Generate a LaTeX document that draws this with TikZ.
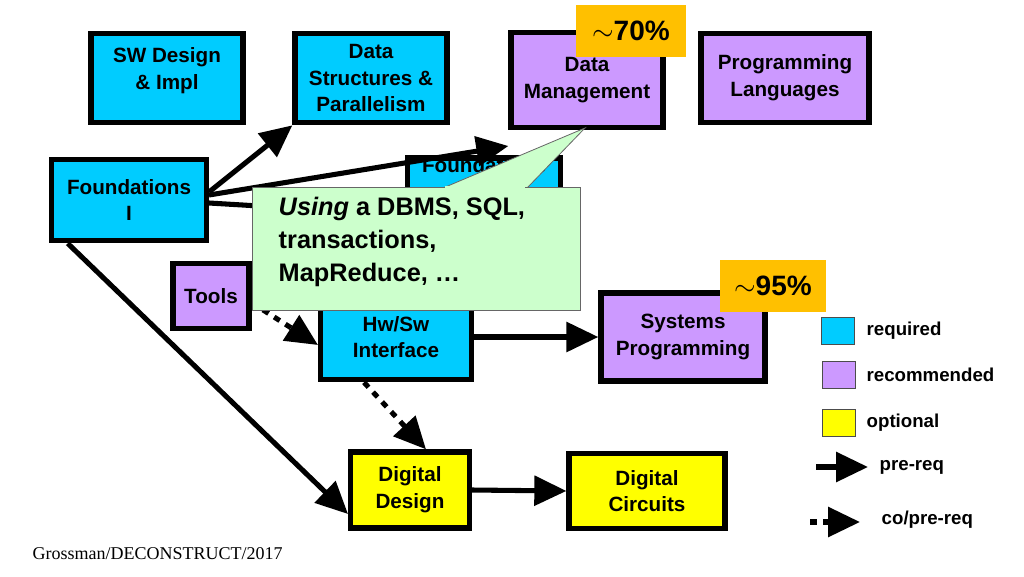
\documentclass[tikz,border=0pt]{standalone}
\usepackage{fontspec}
\setmainfont{Liberation Sans}
\usetikzlibrary{arrows.meta}
\definecolor{req}{HTML}{00CCFF}
\definecolor{rec}{HTML}{CC99FF}
\definecolor{opt}{HTML}{FFFF00}
\definecolor{org}{HTML}{FFC000}
\definecolor{callg}{HTML}{CCFFCC}
\begin{document}
\begin{tikzpicture}[x=0.75pt,y=-0.75pt,
  course/.style={draw=black,line width=4pt,align=center,font=\bfseries\fontsize{15.5}{20}\selectfont,inner sep=0pt},
  pre/.style={line width=3.8pt,-{Triangle[length=24pt,width=22pt]}},
  copre/.style={line width=3.8pt,dash pattern=on 5pt off 5pt,-{Triangle[length=24pt,width=22pt]}},
  legbox/.style={draw=black!70,line width=0.8pt,minimum width=25pt,minimum height=20pt,inner sep=0pt},
  legtxt/.style={anchor=west,font=\bfseries\fontsize{14}{16}\selectfont},
  pct/.style={fill=org,inner sep=0pt,font=\bfseries\fontsize{21}{24}\selectfont}]
\useasboundingbox (0,0) rectangle (1024,576);
% nodes
\node[course,fill=req,minimum width=114pt,minimum height=67pt] (swd) at (167,78) {SW Design\\\& Impl\\[-6pt]};
\node[course,fill=req,minimum width=114pt,minimum height=67pt] (ds) at (371,78) {Data\\Structures \&\\Parallelism};
\node[course,fill=rec,minimum width=114pt,minimum height=71pt] (dm) at (587,80) {Data\\Management};
\node[course,fill=rec,minimum width=126pt,minimum height=67pt] (pl) at (785,78) {Programming\\Languages};
\node[course,fill=req,minimum width=116pt,minimum height=61pt] (f1) at (129,200) {Foundations\\I};
\node[course,fill=req,minimum width=115pt,minimum height=66pt] (f2) at (484,204) {Foundations\\II\\[18pt]};
\node[course,fill=rec,minimum width=57pt,minimum height=49pt] (tools) at (211,296) {Tools};
\node[course,fill=req,minimum width=113pt,minimum height=64pt] (hw) at (396,337) {Hw/Sw\\Interface};
\node[course,fill=rec,minimum width=123pt,minimum height=66pt] (sp) at (683,337) {Systems\\Programming};
\node[course,fill=opt,minimum width=89pt,minimum height=57pt] (dd) at (410,490) {Digital\\Design};
\node[course,fill=opt,minimum width=117pt,minimum height=56pt] (dc) at (647,491) {Digital\\Circuits};
\node[pct,minimum width=82pt,minimum height=39pt] (p70) at (631,31) {$\sim$70\%};
\node[pct,minimum width=80pt,minimum height=39pt] (p95) at (773,286) {$\sim$95\%};
% connectors
\draw[pre] (f1.east) ++(0,-8) -- (ds.south west);
\draw[pre] (f1.east) ++(0,-5) -- ([yshift=-12pt]dm.south west);
\draw[pre] (f1.east) ++(0,3) -- ([yshift=-8pt]f2.west);
\draw[pre] ([xshift=14pt]f1.south west) -- ([yshift=-18pt]dd.west);
\draw[copre] ([yshift=-5pt]tools.east) -- ([yshift=-6pt]hw.west);
\draw[pre] (hw.east) -- (sp.west);
\draw[copre] ([xshift=-24pt]hw.south) -- ([xshift=12pt]dd.north);
\draw[pre] (dd.east) -- (dc.west);
% callout
\fill[callg,draw=black!60,line width=0.6pt] (443,188) -- (585,128) -- (527,188) -- cycle;
\node[fill=callg,draw=black!60,line width=0.6pt,minimum width=246pt,minimum height=92pt,inner sep=0pt] (call) at (416,249) {};
\fill[callg] (445,186) -- (525,186) -- (525,191) -- (445,191) -- cycle;
\node[anchor=north west,align=left,font=\bfseries\fontsize{19}{25}\selectfont] (ctext) at (274,192) {\textit{Using} a DBMS, SQL,\\transactions,\\MapReduce, …};
% legend
\node[legbox,fill=req] (lreq) at (838,331) {};
\node[legtxt] (treq) at (862,331) {required};
\node[legbox,fill=rec] (lrec) at (839,375) {};
\node[legtxt] (trec) at (862,375) {recommended};
\node[legbox,fill=opt] (lopt) at (839,423) {};
\node[legtxt] (topt) at (862,423) {optional};
\coordinate (a1) at (816,467); \coordinate (a2) at (868,467);
\draw[pre] (a1) -- (a2);
\node[legtxt] (tpre) at (875,467) {pre-req};
\coordinate (b1) at (810,522); \coordinate (b2) at (860,522);
\draw[copre] (b1) -- (b2);
\node[legtxt] (tco) at (877,520) {co/pre-req};
\node[anchor=west,font=\fontsize{13.5}{15}\selectfont] (foot) at (28,554) {\fontspec{Liberation Serif}Grossman/DECONSTRUCT/2017};
\end{tikzpicture}
\end{document}
